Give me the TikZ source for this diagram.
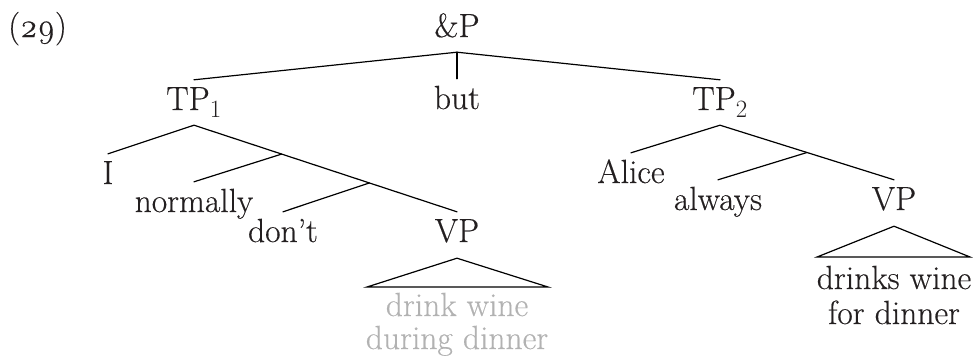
\documentclass[tikz,border=0pt]{standalone}
\usepackage{xcolor}
\usepackage{fontspec}
\setmainfont{Latin Modern Roman}[FakeBold=0.35]
\usetikzlibrary{calc}
\definecolor{ink}{RGB}{35,31,32}
\definecolor{faded}{RGB}{178,178,178}
\begin{document}
\begin{tikzpicture}[x=1pt,y=-1pt,
  lbl/.style={anchor=base,inner sep=0pt,text height=21pt,text depth=6pt,font=\fontsize{33.5}{40}\selectfont,text=ink},
  gtext/.style={lbl,text=faded},
  edge/.style={draw=black,line width=1.2pt,line cap=round},
  ]
\useasboundingbox (0,0) rectangle (973,356);
% labels
\node[lbl,anchor=base west] (ex) at (8,37) {(\oldstylenums{29})};
\node[lbl] (andP) at (457,37) {\&P};
\node[lbl] (TP1) at (194,110) {TP$_1$};
\node[lbl] (but) at (457,109) {but};
\node[lbl] (TP2) at (720,110) {TP$_2$};
\node[lbl] (I) at (108,184) {I};
\node[lbl] (normally) at (194,212) {normally};
\node[lbl] (dont) at (283,242) {don’t};
\node[lbl] (VP1) at (457,242) {VP};
\node[gtext] (dw1) at (457,316) {drink wine};
\node[gtext] (dd1) at (457,349) {during dinner};
\node[lbl] (Alice) at (631,183) {Alice};
\node[lbl] (always) at (718,210) {always};
\node[lbl] (VP2) at (894,210) {VP};
\node[lbl] (dw2) at (894,289) {drinks wine};
\node[lbl] (fd2) at (894,324) {for dinner};
% branch points
\coordinate (aP) at ([yshift=-9pt]andP.south);
\coordinate (aT1) at ([yshift=-9pt]TP1.south);
\coordinate (aT2) at ([yshift=-9pt]TP2.south);
\coordinate (tVP1) at ([yshift=9pt]VP1.north);
\coordinate (tVP2) at ([yshift=9pt]VP2.north);
\coordinate (m1) at ($(aT1)!1/3!(tVP1)$);
\coordinate (m2) at ($(aT1)!2/3!(tVP1)$);
\coordinate (m3) at ($(aT2)!1/2!(tVP2)$);
% &P
\draw[edge] (aP) -- ([yshift=9pt]TP1.north);
\draw[edge] (aP) -- ([yshift=9pt]but.north);
\draw[edge] (aP) -- ([yshift=9pt]TP2.north);
% TP1
\draw[edge] ([yshift=9pt]I.north) -- (aT1) -- (tVP1);
\draw[edge] (m1) -- ([yshift=9pt]normally.north);
\draw[edge] (m2) -- ([yshift=9pt]dont.north);
% TP2
\draw[edge] ([yshift=9pt]Alice.north) -- (aT2) -- (tVP2);
\draw[edge] (m3) -- ([yshift=9pt]always.north);
% triangles
\coordinate (v1a) at ([yshift=-10pt]VP1.south);
\coordinate (v1l) at (367,287);
\coordinate (v1r) at (548,287);
\draw[edge,line join=miter,line cap=butt] (v1a) -- (v1r) -- (v1l) -- cycle;
\coordinate (v2a) at ([yshift=-10pt]VP2.south);
\coordinate (v2l) at (817,257);
\coordinate (v2r) at (970,257);
\draw[edge,line join=miter,line cap=butt] (v2a) -- (v2r) -- (v2l) -- cycle;
\end{tikzpicture}
\end{document}
